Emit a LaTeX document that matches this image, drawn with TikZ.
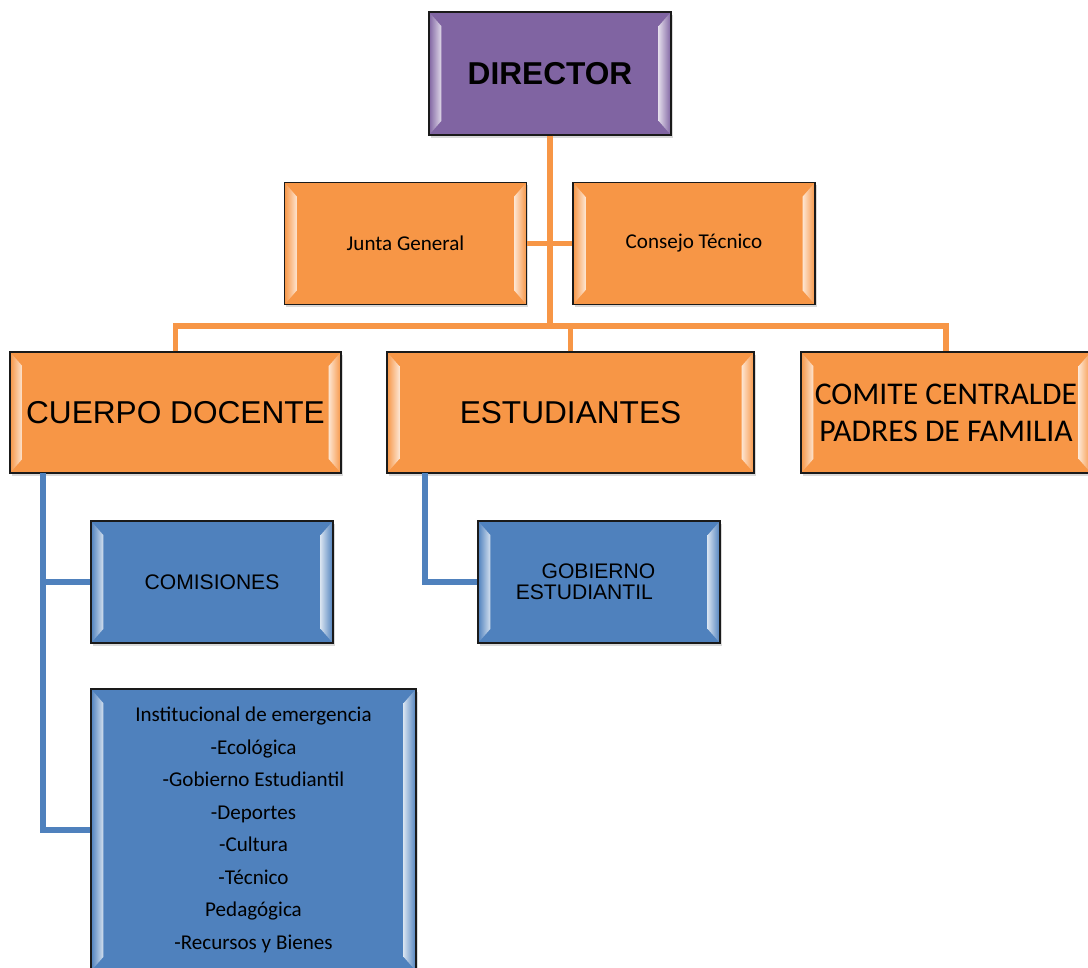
\documentclass[tikz,border=0pt]{standalone}
\usepackage{fontspec}
\setmainfont{Liberation Sans}
\newfontfamily\calibri{Carlito}
\usetikzlibrary{shadows}
\definecolor{morado}{HTML}{8064A2}
\definecolor{naranja}{HTML}{F79646}
\definecolor{azul}{HTML}{4F81BD}
\definecolor{borde}{HTML}{1A1A1A}

\begin{document}
\begin{tikzpicture}[x=0.02cm, y=-0.02cm,
	caja/.style={rectangle, draw=borde, line width=0.8pt, fill=#1, align=center, inner sep=0pt,
		drop shadow={shadow xshift=1pt, shadow yshift=-1.5pt, opacity=0.3},
		path picture={
			\coordinate (no) at (path picture bounding box.north west);
			\coordinate (so) at (path picture bounding box.south west);
			\coordinate (ne) at (path picture bounding box.north east);
			\coordinate (se) at (path picture bounding box.south east);
			\shade[left color=#1!25!white, right color=#1] ([xshift=-7pt,yshift=-8pt]ne) -- (ne) -- (se) -- ([xshift=-7pt,yshift=8pt]se) -- cycle;
			\shade[left color=#1, right color=#1!25!white] (no) -- ([xshift=7pt,yshift=-8pt]no) -- ([xshift=7pt,yshift=8pt]so) -- (so) -- cycle;
		}},
	chica/.style={minimum width=4.84cm, minimum height=2.44cm},
	fila/.style={minimum height=2.42cm},
	grande/.style={font=\fontsize{18}{21}\selectfont},
	texto/.style={font=\calibri\fontsize{12}{14}\selectfont},
	enlace/.style={draw=#1, line width=3pt}]
	\useasboundingbox (0,0) rectangle (1088,967);
	\clip (0,0) rectangle (1088,967);
	\node[caja=morado, minimum width=4.84cm, minimum height=2.46cm, font=\bfseries\fontsize{18}{21}\selectfont] (director) at (550,73.5) {DIRECTOR};
	\node[caja=naranja, chica, texto] (junta) at (405.5,243.5) {Junta General};
	\node[caja=naranja, chica, texto] (consejo) at (694,243.5) {Consejo Técnico};
	\node[caja=naranja, fila, minimum width=6.62cm, grande] (cuerpo) at (175.5,412.5) {CUERPO DOCENTE};
	\node[caja=naranja, fila, minimum width=7.34cm, grande] (estudiantes) at (570.5,412.5) {ESTUDIANTES};
	\node[caja=naranja, fila, minimum width=5.8cm, font=\calibri\fontsize{18}{21}\selectfont] (comite) at (946,412.5) {COMITE CENTRALDE\\PADRES DE FAMILIA};
	\node[caja=azul, chica, font=\fontsize{12}{14}\selectfont] (comisiones) at (212,582) {COMISIONES};
	\node[caja=azul, chica, align=left, font=\fontsize{12}{12}\selectfont] (gobierno) at (599,582) {\hspace*{14.7pt}GOBIERNO\hspace*{15.3pt}\\ESTUDIANTIL};
	\node[caja=azul, minimum width=6.5cm, minimum height=5.64cm, font=\calibri\fontsize{12}{18.5}\selectfont] (lista) at (253.5,830) {Institucional de emergencia\\-Ecológica\\-Gobierno Estudiantil\\-Deportes\\-Cultura\\-Técnico\\Pedagógica\\-Recursos y Bienes};
	\coordinate (bus) at (550,326);
	\coordinate (cdtop) at (43,473);
	\coordinate (esttop) at (425,473);
	\draw[enlace=naranja] (director) -- (bus);
	\draw[enlace=naranja] (junta) -- (consejo);
	\draw[enlace=naranja] (cuerpo.north) |- (bus) -| (comite.north);
	\draw[enlace=naranja] (estudiantes.north) -- (estudiantes.north |- bus);
	\draw[enlace=azul] (cdtop) |- (comisiones.west);
	\draw[enlace=azul] (cdtop) |- (lista.west);
	\draw[enlace=azul] (esttop) |- (gobierno.west);
\end{tikzpicture}
\end{document}
